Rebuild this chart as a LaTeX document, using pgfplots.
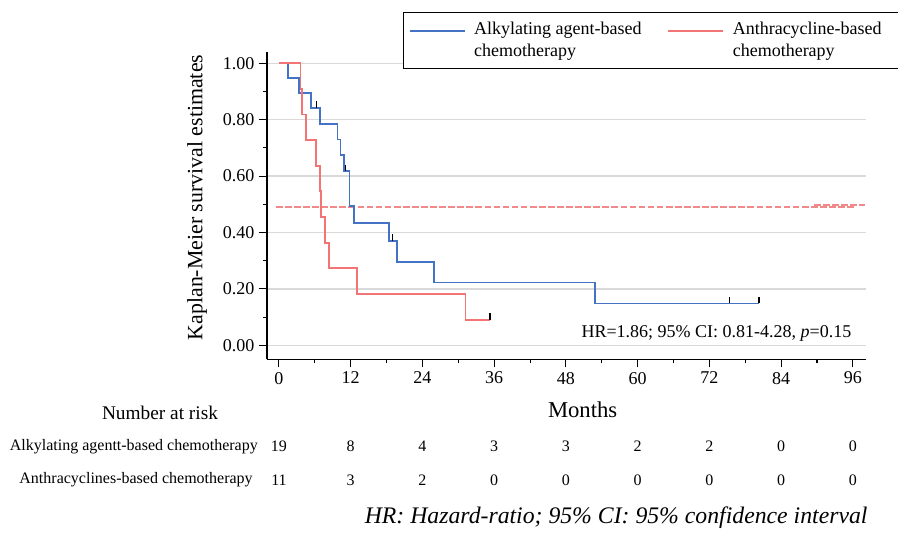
\documentclass[border=0pt]{standalone}
\usepackage{fontspec}
\setmainfont{Liberation Serif}
\usepackage{pgfplots}
\pgfplotsset{compat=1.18}
\definecolor{kmblue}{HTML}{4472C4}
\definecolor{kmred}{HTML}{F27474}
\definecolor{dashred}{HTML}{F08A8A}
\definecolor{gridgray}{HTML}{D9D9D9}
\begin{document}
\begin{tikzpicture}
\useasboundingbox (-200.25pt,-129.5pt) rectangle (473.25pt,269.5pt);
\begin{axis}[
  at={(0pt,0pt)}, anchor=south west,
  scale only axis, width=449.25pt, height=230.5pt,
  xmin=-2.0, xmax=98.2, ymin=-0.05, ymax=1.04,
  axis lines=left, axis line style={-, line width=0.8pt},
  xtick={0,12,24,36,48,60,72,84,96},
  ytick={0,0.2,0.4,0.6,0.8,1},
  minor x tick num=1, minor y tick num=1,
  tick align=outside, major tick length=6pt, minor tick length=3pt,
  tick style={black, line width=0.8pt},
  ymajorgrids, major grid style={gridgray, line width=1.1pt},
  yticklabel style={/pgf/number format/.cd, fixed, fixed zerofill, precision=2},
  /pgf/number format/assume math mode=true,
  tick label style={font=\fontsize{13.5}{16}\selectfont},
  clip=false,
  xlabel={Months},
  xlabel style={font=\fontsize{17}{20}\selectfont, at={(axis cs:50.8,-0.2294)}, anchor=center},
  ylabel={Kaplan-Meier survival estimates},
  ylabel style={font=\fontsize{16.4}{19}\selectfont, at={(axis cs:-13.7,0.524)}, anchor=center},
  legend style={at={(axis cs:20.7,1.183)}, anchor=north west, draw=black, line width=1pt,
    legend columns=2, font=\fontsize{13.5}{16.2}\selectfont,
    inner xsep=4pt, inner ysep=7.5pt, nodes={inner sep=0pt},
    /tikz/every odd column/.append style={column sep=6.5pt},
    /tikz/every even column/.append style={column sep=9.75pt}},
  legend cell align=left,
  legend image code/.code={\draw[#1] (0pt,7.2pt) -- (41.25pt,7.2pt);},
]
% median reference (dashed)
\addplot[dashred, line width=1.3pt, dash pattern=on 5pt off 1.8pt, forget plot] coordinates {(-0.5,0.489) (96.5,0.489)};
\addplot[dashred, line width=1.2pt, dash pattern=on 5pt off 1.8pt, forget plot] coordinates {(89.5,0.4975) (98,0.4975)};
% Alkylating agent-based
\addplot[kmblue, line width=1.4pt, const plot] coordinates {
(0,1) (1.5,0.9474) (3.4,0.8947) (5.3,0.8421) (6.8,0.7860) (9.8,0.7298) (10.3,0.6737) (10.9,0.6175) (11.8,0.4940) (12.6,0.4323) (18.4,0.3705) (19.7,0.2964) (26.0,0.2223) (52.9,0.1482) (80.3,0.1482)};
\addlegendentry{\parbox[b]{135pt}{Alkylating agent-based\\chemotherapy}}
% Anthracycline-based
\addplot[kmred, line width=1.4pt, const plot] coordinates {
(0,1) (3.6,0.9091) (3.8,0.8182) (4.5,0.7273) (6.2,0.6364) (6.8,0.5455) (7.1,0.4545) (7.7,0.3636) (8.4,0.2727) (13.1,0.1818) (31.2,0.0909) (35.3,0.0909)};
\addlegendentry{\parbox[b]{120.5pt}{Anthracycline-based\\chemotherapy}}
% censor marks
\addplot[only marks, mark=|, mark size=2.4pt, mark options={black, line width=0.8pt, yshift=2.4pt}, forget plot] coordinates {
(6.3,0.8421) (11.2,0.6175) (19.0,0.3705) (75.3,0.1482) (80.3,0.1482) (35.3,0.0909)};

\node[anchor=east, inner sep=0pt, font=\fontsize{13.5}{16}\selectfont] at (axis cs:95.8,0.0436) {HR=1.86; 95\% CI: 0.81-4.28, \textit{p}=0.15};

% number at risk table
\node[inner sep=0pt, font=\fontsize{14.5}{17}\selectfont] at (axis cs:-19.9,-0.240) {Number at risk};
\node[anchor=east, inner sep=0pt, font=\fontsize{12}{14}\selectfont] at (axis cs:-3.5,-0.3596) {Alkylating agentt-based chemotherapy};
\node[anchor=east, inner sep=0pt, font=\fontsize{12}{14}\selectfont] at (axis cs:-4.35,-0.4777) {Anthracyclines-based chemotherapy};
\begin{scope}[every node/.style={inner sep=0pt, font=\fontsize{12}{14}\selectfont}]
\node at (axis cs:0,-0.3596) {19};
\node at (axis cs:12,-0.3596) {8};
\node at (axis cs:24,-0.3596) {4};
\node at (axis cs:36,-0.3596) {3};
\node at (axis cs:48,-0.3596) {3};
\node at (axis cs:60,-0.3596) {2};
\node at (axis cs:72,-0.3596) {2};
\node at (axis cs:84,-0.3596) {0};
\node at (axis cs:96,-0.3596) {0};
\node at (axis cs:0,-0.4777) {11};
\node at (axis cs:12,-0.4777) {3};
\node at (axis cs:24,-0.4777) {2};
\node at (axis cs:36,-0.4777) {0};
\node at (axis cs:48,-0.4777) {0};
\node at (axis cs:60,-0.4777) {0};
\node at (axis cs:72,-0.4777) {0};
\node at (axis cs:84,-0.4777) {0};
\node at (axis cs:96,-0.4777) {0};
\end{scope}
\node[anchor=east, inner sep=0pt, font=\fontsize{17.8}{21}\selectfont\itshape] at (axis cs:98.5,-0.612) {HR: Hazard-ratio; 95\% CI: 95\% confidence interval};
\end{axis}
\end{tikzpicture}
\end{document}
